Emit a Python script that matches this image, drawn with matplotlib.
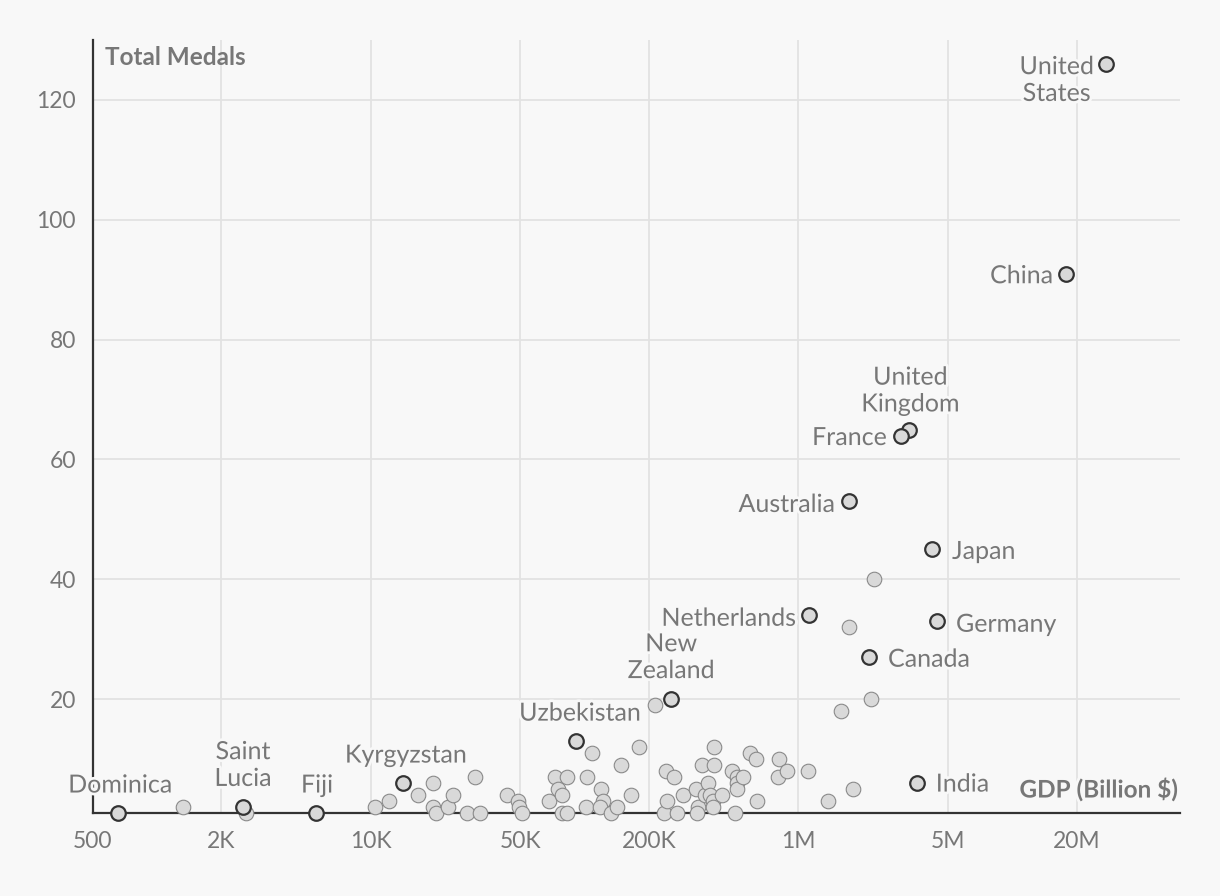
import matplotlib
matplotlib.use("Agg")
import matplotlib.pyplot as plt
import matplotlib.patheffects as pe

# countries with a label: GDP (axis units) and total medals
named = ["United States", "China", "United Kingdom", "France", "Australia", "Japan",
         "Netherlands", "Germany", "Canada", "New Zealand", "Uzbekistan", "Kyrgyzstan",
         "India", "Dominica", "Saint Lucia", "Fiji"]
named_text = ["United\nStates", "China", "United\nKingdom", "France", "Australia", "Japan",
              "Netherlands", "Germany", "Canada", "New\nZealand", "Uzbekistan", "Kyrgyzstan",
              "India", "Dominica", "Saint\nLucia", "Fiji"]
named_gdp = [27400000, 17800000, 3300000, 3010000, 1720000, 4220000,
             1120000, 4450000, 2140000, 254000, 91000, 14100,
             3580000, 656, 2520, 5530]
named_medals = [126, 91, 65, 64, 53, 45, 34, 33, 27, 20, 13, 6, 6, 1, 2, 1]

# all the other countries
other_gdp = [1320, 2610, 10450, 12160, 16600, 19500, 19500, 20150, 22950, 24200,
             28200, 30700, 32400, 43400, 48800, 49300, 50900, 68100, 72600, 75000,
             78300, 78300, 82700, 82700, 102500, 101400, 108400, 119400, 121900, 118000,
             132800, 141700, 147900, 164800, 179500, 213300, 235000, 240400, 242700, 261800,
             270400, 288400, 331900, 339400, 337000, 354000, 365600, 377500, 386300, 398800,
             398800, 402700, 402700, 439500, 488600, 504600, 516200, 516200, 516200, 550700,
             593600, 632600, 639600, 801500, 810800, 883400, 1106000, 1373000, 1798000, 1581000,
             1723000, 2183000, 2254000]
other_medals = [2, 1, 2, 3, 4, 6, 2, 1, 2, 4,
                1, 7, 1, 4, 3, 2, 1, 3, 7, 5,
                4, 1, 7, 1, 7, 2, 11, 5, 3, 2,
                1, 2, 9, 4, 12, 19, 1, 8, 3, 7,
                1, 4, 5, 2, 1, 9, 4, 6, 4, 3,
                2, 12, 9, 4, 8, 1, 7, 6, 5, 7,
                11, 10, 3, 7, 10, 8, 8, 3, 5, 18,
                32, 20, 40]

xticks = [500, 2000, 10000, 50000, 200000, 1000000, 5000000, 20000000]
xtick_labels = ["500", "2K", "10K", "50K", "200K", "1M", "5M", "20M"]
yticks = [20, 40, 60, 80, 100, 120]

# label offsets in pixels (dx right, dy up) and alignment
place = {
    "United States": (-12, -16, "right"),
    "China": (-13, -2, "right"),
    "United Kingdom": (1, 39, "center"),
    "France": (-14, -2, "right"),
    "Australia": (-14, -3, "right"),
    "Japan": (20, -2, "left"),
    "Netherlands": (-13, -3, "right"),
    "Germany": (19, -3, "left"),
    "Canada": (19, -2, "left"),
    "New Zealand": (0, 42, "center"),
    "Uzbekistan": (4, 28, "center"),
    "Kyrgyzstan": (3, 28, "center"),
    "India": (19, -1, "left"),
    "Dominica": (2, 28, "center"),
    "Saint Lucia": (0, 42, "center"),
    "Fiji": (1, 28, "center"),
}

bg = "#f8f8f8"
grey = "#777777"
plt.rcParams["font.family"] = ["Lato", "DejaVu Sans"]

fig = plt.figure(figsize=(12.2, 8.96), dpi=100, facecolor=bg)
ax = fig.add_axes([0.076, 0.0926, 0.891, 0.8627], facecolor=bg)

ax.scatter(other_gdp, other_medals, s=110, color="#d9d9d9", edgecolor="#8a8a8a",
           linewidth=0.8, zorder=3, clip_on=False)
ax.scatter(named_gdp, named_medals, s=110, color="#d9d9d9", edgecolor="#333333",
           linewidth=1.6, zorder=4, clip_on=False)

for name, txt, x, y in zip(named, named_text, named_gdp, named_medals):
    dx, dy, ha = place[name]
    ax.annotate(txt, (x, y), xytext=(dx * 0.72, dy * 0.72), textcoords="offset points",
                ha=ha, va="center", multialignment="center", fontsize=18, color=grey,
                linespacing=1.2, zorder=5,
                path_effects=[pe.withStroke(linewidth=4, foreground=bg)])

ax.set_xscale("log")
ax.set_xlim(500, 6.08e7)
ax.set_ylim(1, 130)
ax.set_xticks(xticks)
ax.set_xticklabels(xtick_labels)
ax.minorticks_off()
ax.set_yticks(yticks)
ax.tick_params(length=0, labelsize=16.5, labelcolor=grey)
ax.tick_params(axis="x", pad=13)
ax.tick_params(axis="y", pad=12)
ax.grid(True, color="#e2e2e2", linewidth=1.3, zorder=0)
ax.set_axisbelow(True)

for s in ["top", "right"]:
    ax.spines[s].set_visible(False)
for s in ["left", "bottom"]:
    ax.spines[s].set_color("#333333")
    ax.spines[s].set_linewidth(1.6)

ax.text(0.011, 0.977, "Total Medals", transform=ax.transAxes, ha="left", va="center",
        fontsize=17.5, fontweight="bold", color=grey)
ax.text(0.998, 0.031, "GDP (Billion $)", transform=ax.transAxes, ha="right", va="center",
        fontsize=17.5, fontweight="bold", color=grey,
        path_effects=[pe.withStroke(linewidth=4, foreground=bg)])

fig.savefig("out.png", dpi=100, facecolor=bg)
